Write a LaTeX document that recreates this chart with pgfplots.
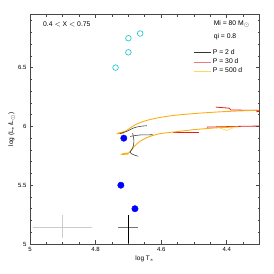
\documentclass[border=0pt]{standalone}
\usepackage{pgfplots}
\pgfplotsset{compat=1.18}
\usepackage{fontspec}
\setmainfont{Liberation Sans}
\definecolor{cyanc}{RGB}{40,200,205}
\definecolor{trackor}{RGB}{250,175,20}
\definecolor{trackred}{RGB}{225,30,30}
\definecolor{legred}{RGB}{240,120,120}
\definecolor{legyel}{RGB}{255,215,90}
\definecolor{axframe}{RGB}{70,70,70}
\begin{document}
\begin{tikzpicture}
\path[use as bounding box] (0,0) rectangle (274pt,274pt);
\begin{axis}[
  at={(30pt,30pt)}, anchor=south west,
  width=229.6pt, height=229.3pt, scale only axis,
  x dir=reverse,
  xmin=4.3, xmax=5.0, ymin=5.0, ymax=6.95,
  xtick={4.4,4.6,4.8,5.0}, xticklabels={4.4,4.6,4.8,5},
  ytick={5,5.5,6,6.5}, yticklabels={5,5.5,6,6.5},
  minor xtick={4.35,4.45,4.5,4.55,4.65,4.7,4.75,4.85,4.9,4.95},
  minor ytick={5.1,5.2,5.3,5.4,5.6,5.7,5.8,5.9,6.1,6.2,6.3,6.4,6.6,6.7,6.8,6.9},
  tick align=inside, xtick pos=both, ytick pos=both,
  major tick length=3.5pt, minor tick length=2pt,
  every tick/.style={draw=axframe, line width=0.6pt},
  axis line style={draw=axframe, line width=0.9pt},
  /pgf/number format/assume math mode=true,
  tick label style={font=\fontsize{6}{7}\selectfont},
  xlabel={log T$_*$}, ylabel={log (L$_*$/L$_\odot$)},
  label style={font=\fontsize{6.5}{7}\selectfont},
  xlabel style={yshift=3pt},
  ylabel style={yshift=-4pt},
  legend style={draw=none, fill=none, at={(rel axis cs:0.705,0.862)}, anchor=north west,
    font=\fontsize{6.8}{7.5}\selectfont, row sep=-1.2pt, inner sep=1pt},
  legend cell align=left,
  legend image code/.code={\draw[#1] (0pt,0pt) -- (17pt,0pt);},
  clip=true,
]
% error crosses
\addplot[forget plot, color=black!20, line width=0.7pt] coordinates {(4.99,5.144) (4.81,5.144)};
\addplot[forget plot, color=black!20, line width=0.7pt] coordinates {(4.902,5.245) (4.902,5.05)};
\addplot[forget plot, color=black!55, line width=0.9pt] coordinates {(4.731,5.144) (4.67,5.144)};
\addplot[forget plot, color=black, line width=0.6pt] coordinates {(4.70,5.245) (4.70,5.01)};
% red tracks (P = 30 d)
\addplot[forget plot, color=trackred, line width=0.8pt] coordinates {(4.433,6.164) (4.392,6.155) (4.388,6.140) (4.35,6.138) (4.302,6.136)};
\addplot[forget plot, color=trackred, line width=0.8pt] coordinates {(4.31,6.125) (4.302,6.127)};
\addplot[forget plot, color=trackred, line width=0.8pt] coordinates {(4.563,5.949) (4.485,5.949)};
\addplot[forget plot, color=trackred, line width=0.8pt] coordinates {(4.461,5.994) (4.40,5.998) (4.35,6.001) (4.302,6.003)};
% orange tracks (P = 500 d)
\addplot[forget plot, color=trackor, line width=0.9pt, smooth] coordinates {
 (4.713,5.944) (4.734,5.938) (4.728,5.946) (4.710,5.958) (4.695,5.986) (4.675,6.020) (4.644,6.051)
 (4.604,6.076) (4.553,6.096) (4.482,6.113) (4.400,6.127) (4.302,6.138)};
\addplot[forget plot, color=trackor, line width=0.9pt, smooth] coordinates {
 (4.700,5.765) (4.720,5.762) (4.712,5.772) (4.700,5.774) (4.690,5.802) (4.680,5.836) (4.665,5.873)
 (4.639,5.910) (4.604,5.938) (4.553,5.955) (4.502,5.972) (4.441,5.986) (4.400,5.992) (4.365,5.997)};
\addplot[forget plot, color=legyel, line width=0.7pt] coordinates {(4.42,5.985) (4.40,5.966) (4.38,5.988)};
% black tracks (P = 2 d)
\addplot[forget plot, color=black!80, line width=0.55pt, smooth] coordinates {(4.726,5.938) (4.705,5.958) (4.685,5.986) (4.665,6.0) (4.644,6.006)};
\addplot[forget plot, color=black!80, line width=0.55pt, smooth] coordinates {(4.695,5.915) (4.665,5.927) (4.626,5.929)};
\addplot[forget plot, color=black!80, line width=0.55pt, smooth] coordinates {(4.687,5.944) (4.683,5.873) (4.687,5.816) (4.695,5.780) (4.685,5.760) (4.670,5.746)};
% observed stars
\addplot[forget plot, only marks, mark=o, mark size=2.8pt, color=cyanc, line width=0.7pt] coordinates {
 (4.739,6.50) (4.70,6.75) (4.70,6.63) (4.664,6.79)};
\addplot[forget plot, only marks, mark=*, mark size=3.2pt, color=blue, fill=blue] coordinates {
 (4.714,5.90) (4.723,5.50) (4.68,5.30)};
% legend
\addlegendimage{color=black!80, line width=0.55pt}
\addlegendentry{P = 2 d}
\addlegendimage{color=legred, line width=0.9pt}
\addlegendentry{P = 30 d}
\addlegendimage{color=legyel, line width=0.9pt}
\addlegendentry{P = 500 d}
\draw[axframe, line width=0.9pt] (rel axis cs:0,0) rectangle (rel axis cs:1,1);
\node[font=\fontsize{6.8}{7.5}\selectfont, anchor=west] at (rel axis cs:0.042,0.959) {0.4 $<$ X $<$ 0.75};
\node[font=\fontsize{6.8}{7.5}\selectfont, anchor=west] at (rel axis cs:0.785,0.959) {Mi = 80 M$_\odot$};
\node[font=\fontsize{6.8}{7.5}\selectfont, anchor=west] at (rel axis cs:0.785,0.904) {qi = 0.8};
\end{axis}
\end{tikzpicture}
\end{document}
